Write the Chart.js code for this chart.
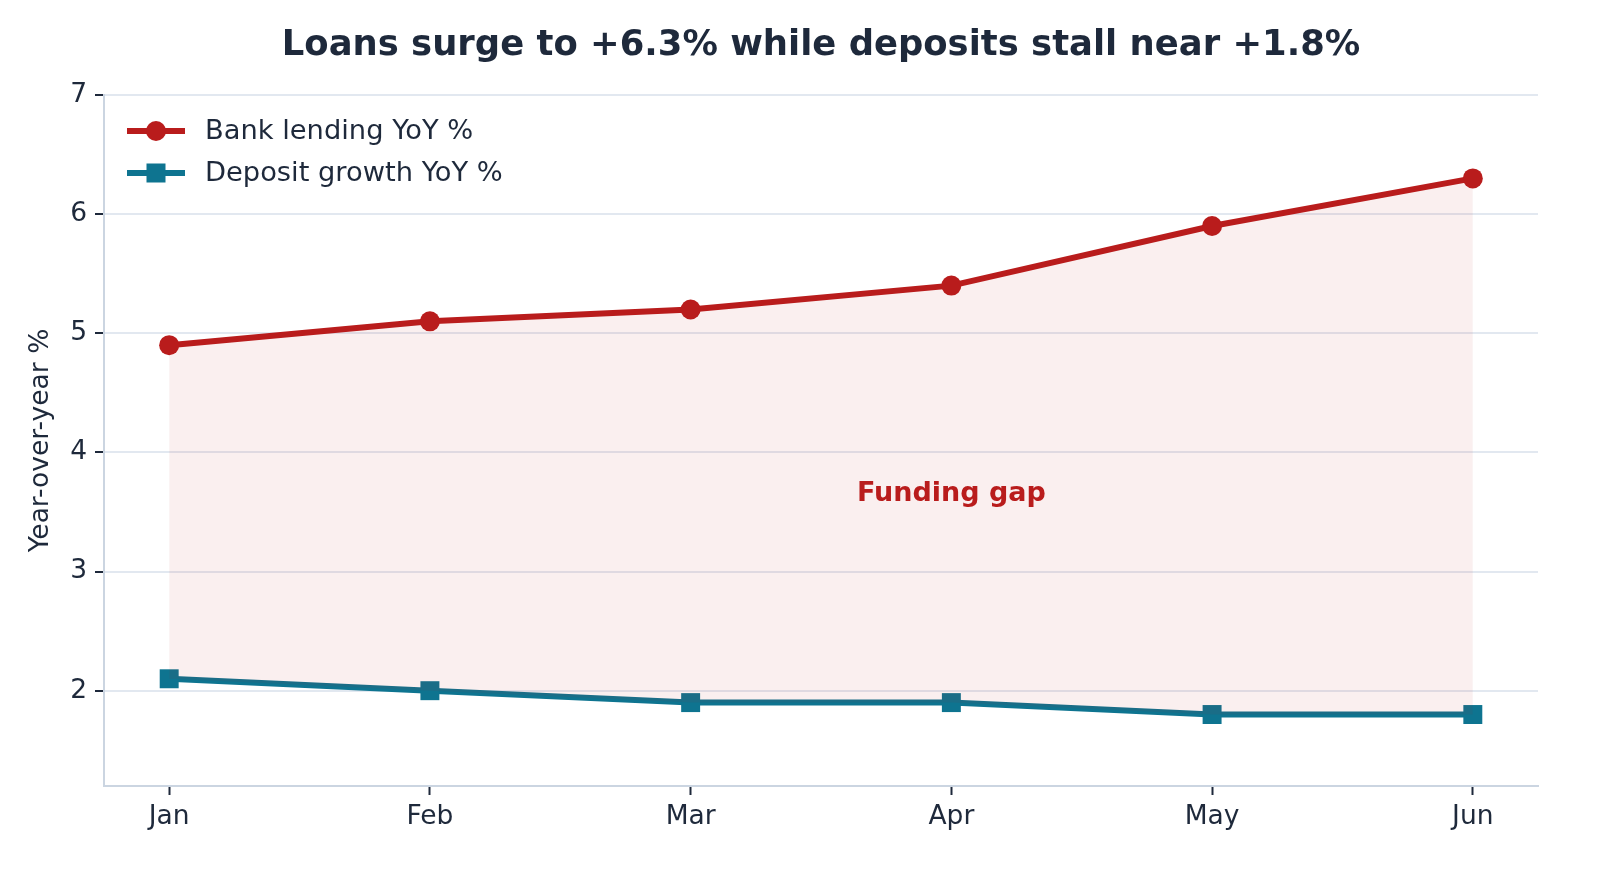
<!DOCTYPE html>
<html>
<head>
<meta charset="utf-8">
<script src="https://cdn.jsdelivr.net/npm/chart.js@4.4.1/dist/chart.umd.min.js"></script>
<style>
html,body{margin:0;padding:0;background:#fff;}
#wrap{width:1600px;height:880px;position:relative;}
</style>
</head>
<body>
<div id="wrap"><canvas id="c" width="1600" height="880"></canvas></div>
<script>
const months = ["Jan","Feb","Mar","Apr","May","Jun"];
const lending = [4.9, 5.1, 5.2, 5.4, 5.9, 6.3];
const deposits = [2.1, 2.0, 1.9, 1.9, 1.8, 1.8];
const yTicks = [2, 3, 4, 5, 6, 7];
const titleText = "Loans surge to +6.3% while deposits stall near +1.8%";
const yTitle = "Year-over-year %";
const gapLabel = "Funding gap";
const gapAt = {x: 3, y: 3.65};
const seriesNames = ["Bank lending YoY %", "Deposit growth YoY %"];

const RED = "#b91c1c", TEAL = "#0e7490", INK = "#1e293b";
const FONT = "'DejaVu Sans', sans-serif";

const toXY = arr => arr.map((v, i) => ({x: i, y: v}));

const overlay = {
  id: "overlay",
  afterDraw(chart) {
    const ctx = chart.ctx, a = chart.chartArea;
    const xs = chart.scales.x, ys = chart.scales.y;
    ctx.save();
    // title
    ctx.fillStyle = INK;
    ctx.font = "bold 35.4px " + FONT;
    ctx.textAlign = "center";
    ctx.textBaseline = "middle";
    ctx.fillText(titleText, (a.left + a.right) / 2, 46);
    // annotation
    ctx.fillStyle = RED;
    ctx.font = "bold 27px " + FONT;
    ctx.fillText(gapLabel, xs.getPixelForValue(gapAt.x), ys.getPixelForValue(gapAt.y));
    // legend
    const items = [{c: RED, s: "circle"}, {c: TEAL, s: "rect"}];
    items.forEach((it, i) => {
      const y = 131 + i * 42;
      ctx.strokeStyle = it.c; ctx.lineWidth = 6; ctx.lineCap = "butt";
      ctx.beginPath(); ctx.moveTo(127, y); ctx.lineTo(185, y); ctx.stroke();
      ctx.fillStyle = it.c;
      if (it.s === "circle") { ctx.beginPath(); ctx.arc(156, y, 10, 0, Math.PI * 2); ctx.fill(); }
      else ctx.fillRect(146.5, y - 9.5, 19, 19);
      ctx.fillStyle = INK;
      ctx.font = "27.3px " + FONT;
      ctx.textAlign = "left";
      ctx.fillText(seriesNames[i], 205, y + 1);
    });
    ctx.restore();
  }
};

new Chart(document.getElementById("c"), {
  type: "line",
  data: {
    datasets: [
      {
        label: seriesNames[0], data: toXY(lending),
        borderColor: RED, backgroundColor: "rgba(185,28,28,0.07)",
        borderWidth: 6, pointRadius: 10, pointBackgroundColor: RED, pointBorderWidth: 0,
        pointStyle: "circle", fill: "+1", tension: 0
      },
      {
        label: seriesNames[1], data: toXY(deposits),
        borderColor: TEAL, backgroundColor: TEAL,
        borderWidth: 6, pointRadius: 13.4, pointBackgroundColor: TEAL, pointBorderWidth: 0,
        pointStyle: "rect", fill: false, tension: 0
      }
    ]
  },
  options: {
    responsive: false, animation: false, devicePixelRatio: 1,
    layout: {padding: {top: 95, right: 62, left: 0, bottom: 0}},
    plugins: {legend: {display: false}, title: {display: false}, tooltip: {enabled: false}},
    scales: {
      x: {
        type: "linear", min: -0.25, max: 5.25,
        afterBuildTicks: s => { s.ticks = months.map((m, i) => ({value: i})); },
        afterFit: s => { s.height = 94; },
        ticks: {callback: v => months[v], color: INK, font: {family: FONT, size: 26.5}, padding: 6, maxRotation: 0, autoSkip: false},
        grid: {drawOnChartArea: false, drawTicks: true, tickLength: 9, tickColor: INK, tickWidth: 2},
        border: {display: true, color: "#cbd5e1", width: 2}
      },
      y: {
        min: 1.2, max: 7,
        afterBuildTicks: s => { s.ticks = yTicks.map(v => ({value: v})); },
        afterFit: s => { s.width = 104; },
        ticks: {color: INK, font: {family: FONT, size: 26.5}, padding: 8},
        grid: {color: "#e2e8f0", lineWidth: 2, drawTicks: true, tickLength: 9, tickColor: INK, tickWidth: 2},
        border: {display: true, color: "#cbd5e1", width: 2},
        title: {display: true, text: yTitle, color: INK, font: {family: FONT, size: 26.5}, padding: {top: 25, bottom: 0}}
      }
    }
  },
  plugins: [overlay]
});
</script>
</body>
</html>
